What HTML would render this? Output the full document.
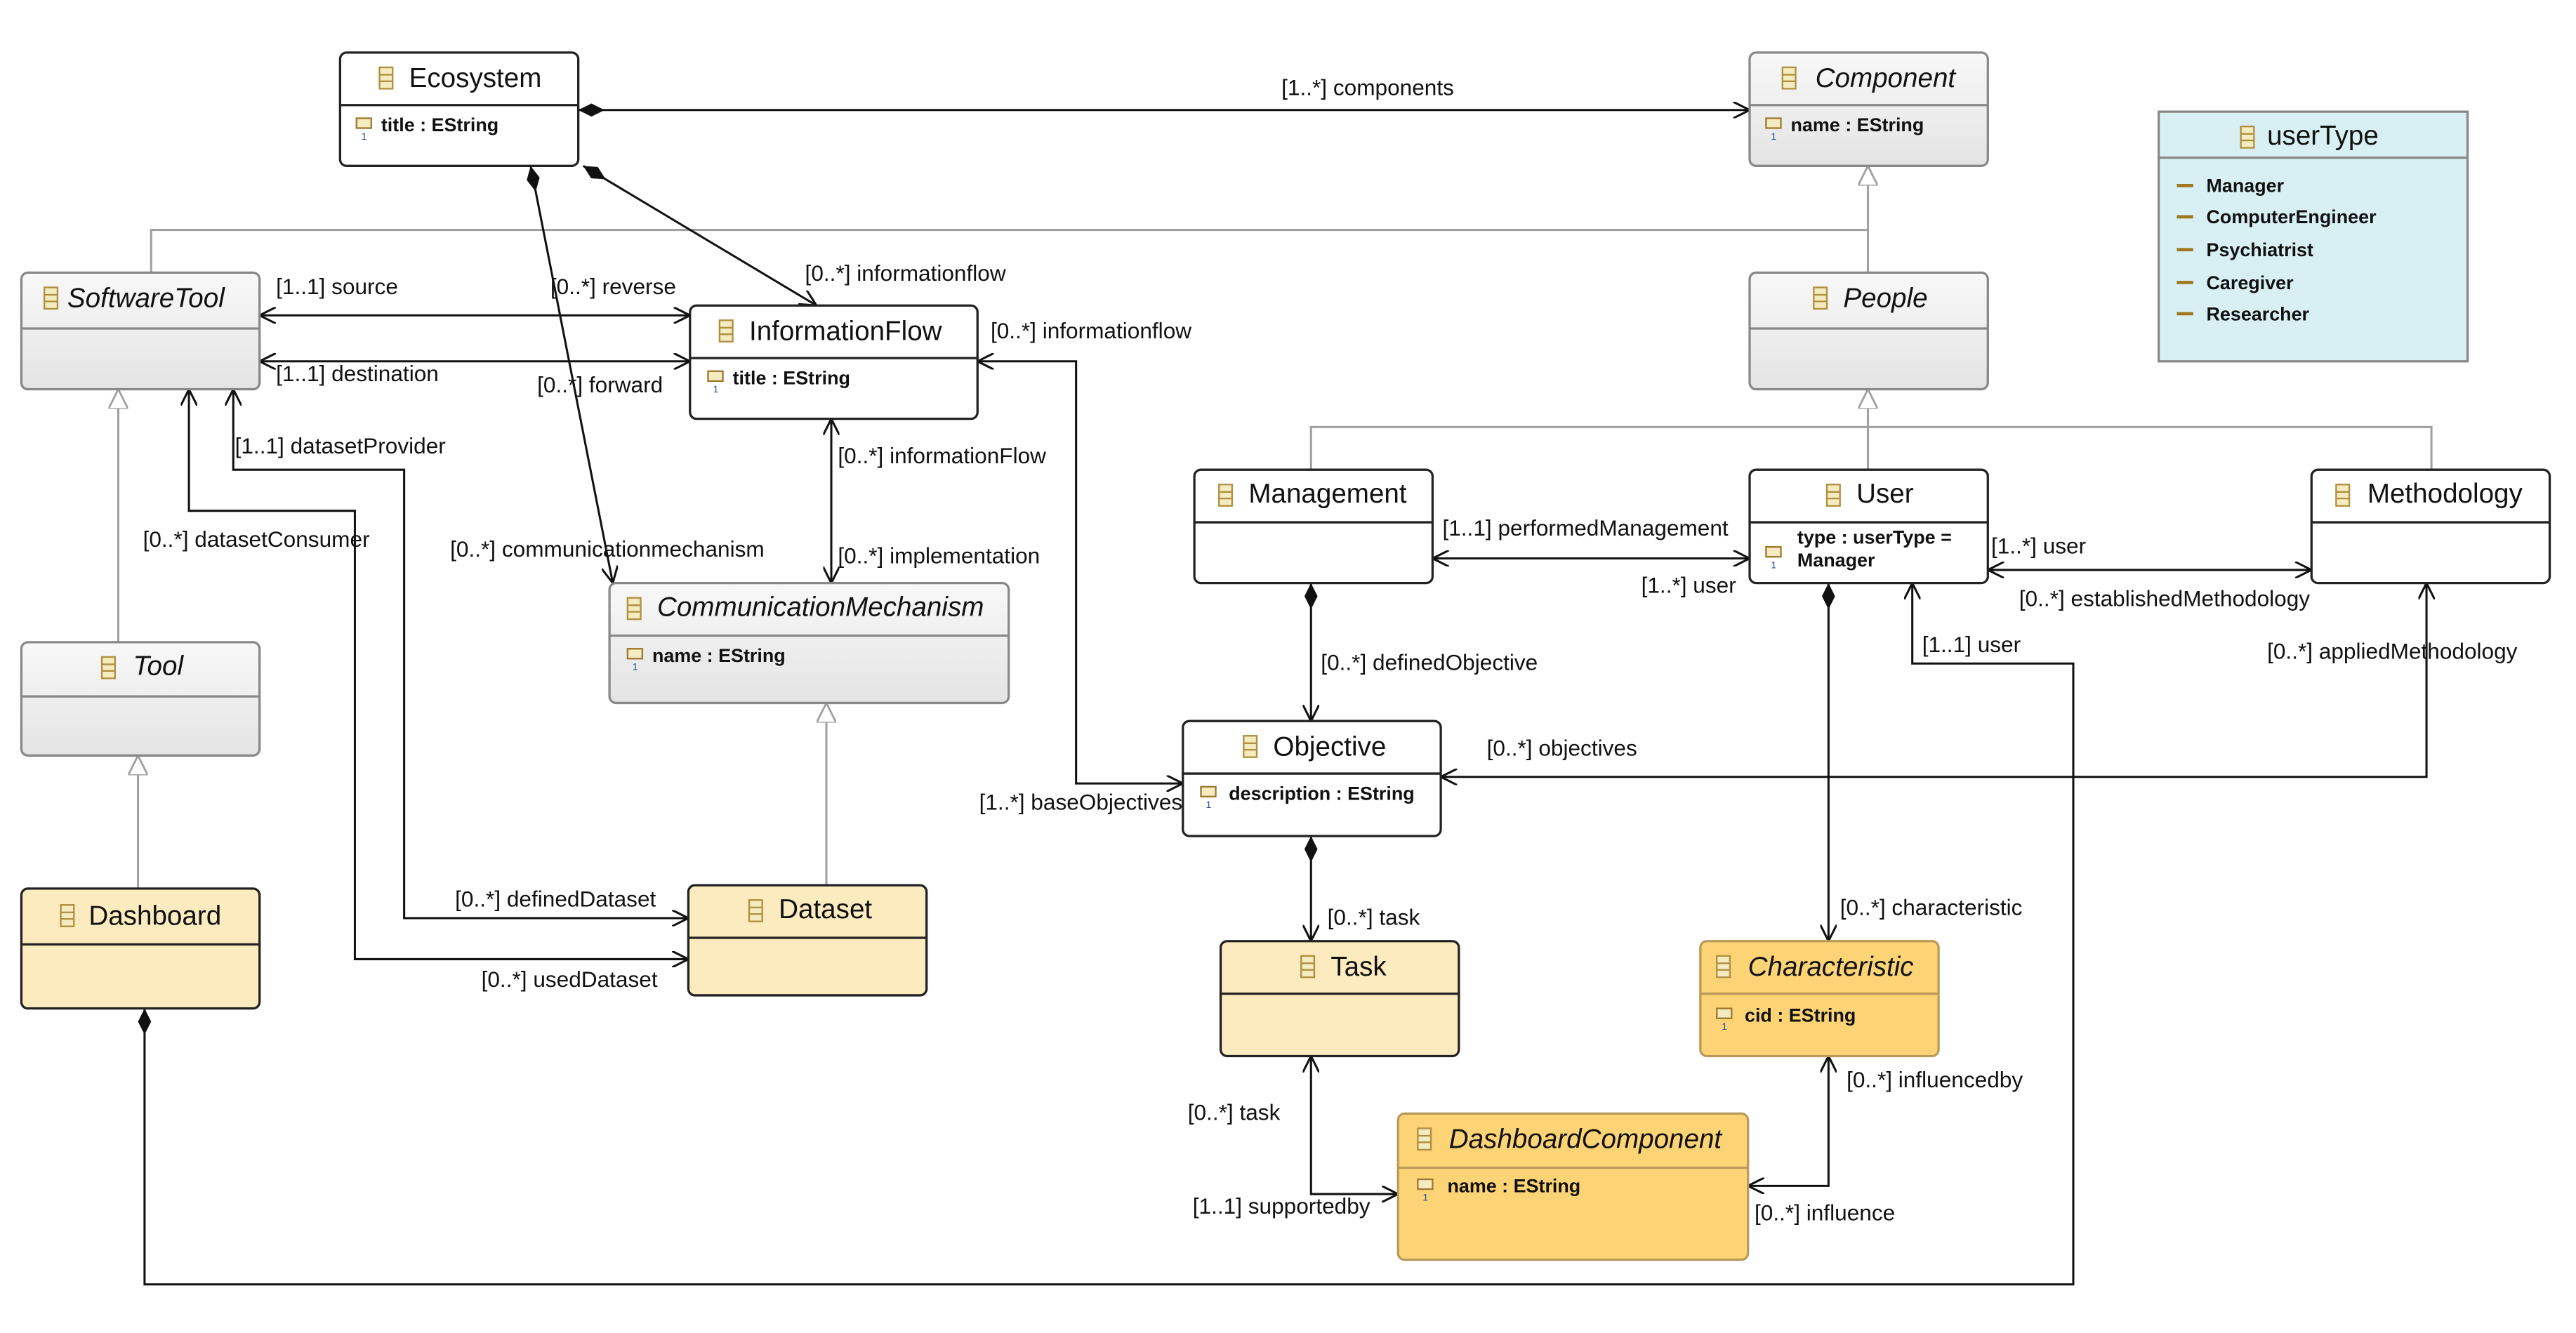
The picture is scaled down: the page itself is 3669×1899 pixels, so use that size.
<!DOCTYPE html>
<html><head><meta charset="utf-8"><style>
html,body{margin:0;padding:0;background:#fff}
svg{display:block}
text{font-family:"Liberation Sans",Arial,sans-serif;fill:#111}
.n{font-size:16.5px}
.i{font-style:italic}
.a{font-size:11.5px;font-weight:bold}
.l{font-size:13.5px}
.c{stroke:#111;stroke-width:1.3;fill:none}
.g{stroke:#a0a0a0;stroke-width:1.3;fill:none}
</style></head><body>
<svg width="3669" height="1899" viewBox="0 0 1568 811.6" preserveAspectRatio="none" xmlns="http://www.w3.org/2000/svg">
<defs>
<marker id="ar" viewBox="0 0 10 10" refX="10" refY="5" markerWidth="10" markerHeight="10" orient="auto-start-reverse" markerUnits="userSpaceOnUse"><path d="M0,0 L10,5 L0,10" fill="none" stroke="#111" stroke-width="1.3"/></marker>
<marker id="dm" viewBox="0 0 16 8" refX="16" refY="4" markerWidth="16" markerHeight="8" orient="auto-start-reverse" markerUnits="userSpaceOnUse"><path d="M0,4 L8,0 L16,4 L8,8 Z" fill="#111"/></marker>
<marker id="tr" viewBox="0 0 12 12" refX="12" refY="6" markerWidth="12" markerHeight="12" orient="auto" markerUnits="userSpaceOnUse"><path d="M0,0 L12,6 L0,12 Z" fill="#fff" stroke="#a0a0a0" stroke-width="1.2"/></marker>
<linearGradient id="gr" x1="0" y1="0" x2="0" y2="1"><stop offset="0" stop-color="#f8f8f8"/><stop offset="1" stop-color="#e4e4e4"/></linearGradient>
<g id="ic"><rect x="0" y="0" width="8" height="13" fill="#f4ecc0" stroke="#b09040" stroke-width="1"/><line x1="0" y1="4.5" x2="8" y2="4.5" stroke="#b09040"/><line x1="0" y1="8.5" x2="8" y2="8.5" stroke="#b09040"/></g>
<g id="at"><rect x="0" y="0" width="9" height="6" fill="#f4ecc0" stroke="#a07830" stroke-width="1"/><text x="3" y="13" style="font-size:6px;fill:#2050a0">1</text></g>
</defs>

<!-- generalization lines -->
<path class="g" d="M92,166 V140 H1137 V101" marker-end="url(#tr)"/>
<path class="g" d="M1137,166 V140"/>
<path class="g" d="M72,391 V237" marker-end="url(#tr)"/>
<path class="g" d="M84,541 V460" marker-end="url(#tr)"/>
<path class="g" d="M503,539 V428" marker-end="url(#tr)"/>
<path class="g" d="M798,286 V260 H1480 V286"/>
<path class="g" d="M1137,286 V237" marker-end="url(#tr)"/>

<!-- associations -->
<path class="c" d="M352,67 H1065" marker-start="url(#dm)" marker-end="url(#ar)"/>
<path class="c" d="M323,101 L373,355" marker-start="url(#dm)" marker-end="url(#ar)"/>
<path class="c" d="M355,101 L497,186" marker-start="url(#dm)" marker-end="url(#ar)"/>
<path class="c" d="M158,192 H420" marker-start="url(#ar)" marker-end="url(#ar)"/>
<path class="c" d="M158,220 H420" marker-start="url(#ar)" marker-end="url(#ar)"/>
<path class="c" d="M115,237 V311 H216 V584 H419" marker-start="url(#ar)" marker-end="url(#ar)"/>
<path class="c" d="M142,237 V286 H246 V559 H419" marker-start="url(#ar)" marker-end="url(#ar)"/>
<path class="c" d="M506,255 V355" marker-start="url(#ar)" marker-end="url(#ar)"/>
<path class="c" d="M595,220 H655 V477 H720" marker-start="url(#ar)" marker-end="url(#ar)"/>
<path class="c" d="M872,340 H1065" marker-start="url(#ar)" marker-end="url(#ar)"/>
<path class="c" d="M1210,347 H1407" marker-start="url(#ar)" marker-end="url(#ar)"/>
<path class="c" d="M798,355 V439" marker-start="url(#dm)" marker-end="url(#ar)"/>
<path class="c" d="M1477,355 V473 H877" marker-start="url(#ar)" marker-end="url(#ar)"/>
<path class="c" d="M1113,355 V573" marker-start="url(#dm)" marker-end="url(#ar)"/>
<path class="c" d="M798,509 V573" marker-start="url(#dm)" marker-end="url(#ar)"/>
<path class="c" d="M798,643 V727 H851" marker-start="url(#ar)" marker-end="url(#ar)"/>
<path class="c" d="M1113,643 V722 H1064" marker-start="url(#ar)" marker-end="url(#ar)"/>
<path class="c" d="M88,614 V782 H1262 V404 H1164 V355" marker-start="url(#dm)" marker-end="url(#ar)"/>

<!-- labels -->
<text class="l" x="780" y="58">[1..*] components</text>
<text class="l" x="335" y="179">[0..*] reverse</text>
<text class="l" x="327" y="239">[0..*] forward</text>
<text class="l" x="490" y="171">[0..*] informationflow</text>
<text class="l" x="168" y="179">[1..1] source</text>
<text class="l" x="168" y="232">[1..1] destination</text>
<text class="l" x="143" y="276">[1..1] datasetProvider</text>
<text class="l" x="87" y="333">[0..*] datasetConsumer</text>
<text class="l" x="274" y="339">[0..*] communicationmechanism</text>
<text class="l" x="510" y="282">[0..*] informationFlow</text>
<text class="l" x="510" y="343">[0..*] implementation</text>
<text class="l" x="603" y="206">[0..*] informationflow</text>
<text class="l" x="596" y="493">[1..*] baseObjectives</text>
<text class="l" x="277" y="552">[0..*] definedDataset</text>
<text class="l" x="293" y="601">[0..*] usedDataset</text>
<text class="l" x="878" y="326">[1..1] performedManagement</text>
<text class="l" x="999" y="361">[1..*] user</text>
<text class="l" x="1212" y="337">[1..*] user</text>
<text class="l" x="1229" y="369">[0..*] establishedMethodology</text>
<text class="l" x="804" y="408">[0..*] definedObjective</text>
<text class="l" x="1380" y="401">[0..*] appliedMethodology</text>
<text class="l" x="905" y="460">[0..*] objectives</text>
<text class="l" x="1170" y="397">[1..1] user</text>
<text class="l" x="1120" y="557">[0..*] characteristic</text>
<text class="l" x="808" y="563">[0..*] task</text>
<text class="l" x="723" y="682">[0..*] task</text>
<text class="l" x="726" y="739">[1..1] supportedby</text>
<text class="l" x="1124" y="662">[0..*] influencedby</text>
<text class="l" x="1068" y="743">[0..*] influence</text>

<!-- boxes -->
<g stroke="#222" stroke-width="1.4">
<rect x="207" y="32" width="145" height="69" rx="4" fill="#fff"/><line x1="207" y1="64" x2="352" y2="64"/>
<rect x="1065" y="32" width="145" height="69" rx="4" fill="url(#gr)" stroke="#888"/><line x1="1065" y1="64" x2="1210" y2="64" stroke="#888"/>
<rect x="1314" y="68" width="188" height="152" fill="#d8f0f4" stroke="#888"/><line x1="1314" y1="96" x2="1502" y2="96" stroke="#888"/>
<rect x="13" y="166" width="145" height="71" rx="4" fill="url(#gr)" stroke="#888"/><line x1="13" y1="200" x2="158" y2="200" stroke="#888"/>
<rect x="420" y="186" width="175" height="69" rx="4" fill="#fff"/><line x1="420" y1="218" x2="595" y2="218"/>
<rect x="1065" y="166" width="145" height="71" rx="4" fill="url(#gr)" stroke="#888"/><line x1="1065" y1="200" x2="1210" y2="200" stroke="#888"/>
<rect x="727" y="286" width="145" height="69" rx="4" fill="#fff"/><line x1="727" y1="318" x2="872" y2="318"/>
<rect x="1065" y="286" width="145" height="69" rx="4" fill="#fff"/><line x1="1065" y1="318" x2="1210" y2="318"/>
<rect x="1407" y="286" width="145" height="69" rx="4" fill="#fff"/><line x1="1407" y1="318" x2="1552" y2="318"/>
<rect x="371" y="355" width="243" height="73" rx="4" fill="url(#gr)" stroke="#888"/><line x1="371" y1="387" x2="614" y2="387" stroke="#888"/>
<rect x="13" y="391" width="145" height="69" rx="4" fill="url(#gr)" stroke="#888"/><line x1="13" y1="424" x2="158" y2="424" stroke="#888"/>
<rect x="720" y="439" width="157" height="70" rx="4" fill="#fff"/><line x1="720" y1="471" x2="877" y2="471"/>
<rect x="13" y="541" width="145" height="73" rx="4" fill="#fdebc0"/><line x1="13" y1="575" x2="158" y2="575"/>
<rect x="419" y="539" width="145" height="67" rx="4" fill="#fdebc0"/><line x1="419" y1="571" x2="564" y2="571"/>
<rect x="743" y="573" width="145" height="70" rx="4" fill="#fdebc0"/><line x1="743" y1="605" x2="888" y2="605"/>
<rect x="1035" y="573" width="145" height="70" rx="4" fill="#fdd475" stroke="#b89a5a"/><line x1="1035" y1="605" x2="1180" y2="605" stroke="#b89a5a"/>
<rect x="851" y="678" width="213" height="89" rx="4" fill="#fdd475" stroke="#b89a5a"/><line x1="851" y1="711" x2="1064" y2="711" stroke="#b89a5a"/>
</g>

<!-- names -->
<use href="#ic" x="231" y="41"/><text class="n" x="249" y="53">Ecosystem</text>
<use href="#at" x="217" y="72"/><text class="a" x="232" y="80">title : EString</text>
<use href="#ic" x="1085" y="41"/><text class="n i" x="1105" y="53">Component</text>
<use href="#at" x="1075" y="72"/><text class="a" x="1090" y="80">name : EString</text>
<use href="#ic" x="1364" y="77"/><text class="n" x="1380" y="88">userType</text>
<g class="a"><text class="a" x="1343" y="117">Manager</text><text class="a" x="1343" y="136">ComputerEngineer</text><text class="a" x="1343" y="156">Psychiatrist</text><text class="a" x="1343" y="176">Caregiver</text><text class="a" x="1343" y="195">Researcher</text></g>
<g stroke="#a07820" stroke-width="2"><line x1="1325" y1="113" x2="1335" y2="113"/><line x1="1325" y1="132" x2="1335" y2="132"/><line x1="1325" y1="152" x2="1335" y2="152"/><line x1="1325" y1="172" x2="1335" y2="172"/><line x1="1325" y1="191" x2="1335" y2="191"/></g>
<use href="#ic" x="27" y="175"/><text class="n i" x="41" y="187">SoftwareTool</text>
<use href="#ic" x="438" y="195"/><text class="n" x="456" y="207">InformationFlow</text>
<use href="#at" x="431" y="226"/><text class="a" x="446" y="234">title : EString</text>
<use href="#ic" x="1104" y="175"/><text class="n i" x="1122" y="187">People</text>
<use href="#ic" x="742" y="295"/><text class="n" x="760" y="306">Management</text>
<use href="#ic" x="1112" y="295"/><text class="n" x="1130" y="306">User</text>
<use href="#at" x="1075" y="333"/><text class="a" x="1094" y="331">type : userType =</text><text class="a" x="1094" y="345">Manager</text>
<use href="#ic" x="1422" y="295"/><text class="n" x="1441" y="306">Methodology</text>
<use href="#ic" x="382" y="364"/><text class="n i" x="400" y="375">CommunicationMechanism</text>
<use href="#at" x="382" y="395"/><text class="a" x="397" y="403">name : EString</text>
<use href="#ic" x="62" y="400"/><text class="n i" x="81" y="411">Tool</text>
<use href="#ic" x="757" y="448"/><text class="n" x="775" y="460">Objective</text>
<use href="#at" x="731" y="479"/><text class="a" x="748" y="487">description : EString</text>
<use href="#ic" x="37" y="551"/><text class="n" x="54" y="563">Dashboard</text>
<use href="#ic" x="456" y="548"/><text class="n" x="474" y="559">Dataset</text>
<use href="#ic" x="792" y="582"/><text class="n" x="810" y="594">Task</text>
<use href="#ic" x="1045" y="582"/><text class="n i" x="1064" y="594">Characteristic</text>
<use href="#at" x="1045" y="614"/><text class="a" x="1062" y="622">cid : EString</text>
<use href="#ic" x="863" y="687"/><text class="n i" x="882" y="699">DashboardComponent</text>
<use href="#at" x="863" y="718"/><text class="a" x="881" y="726">name : EString</text>
</svg>
</body></html>
